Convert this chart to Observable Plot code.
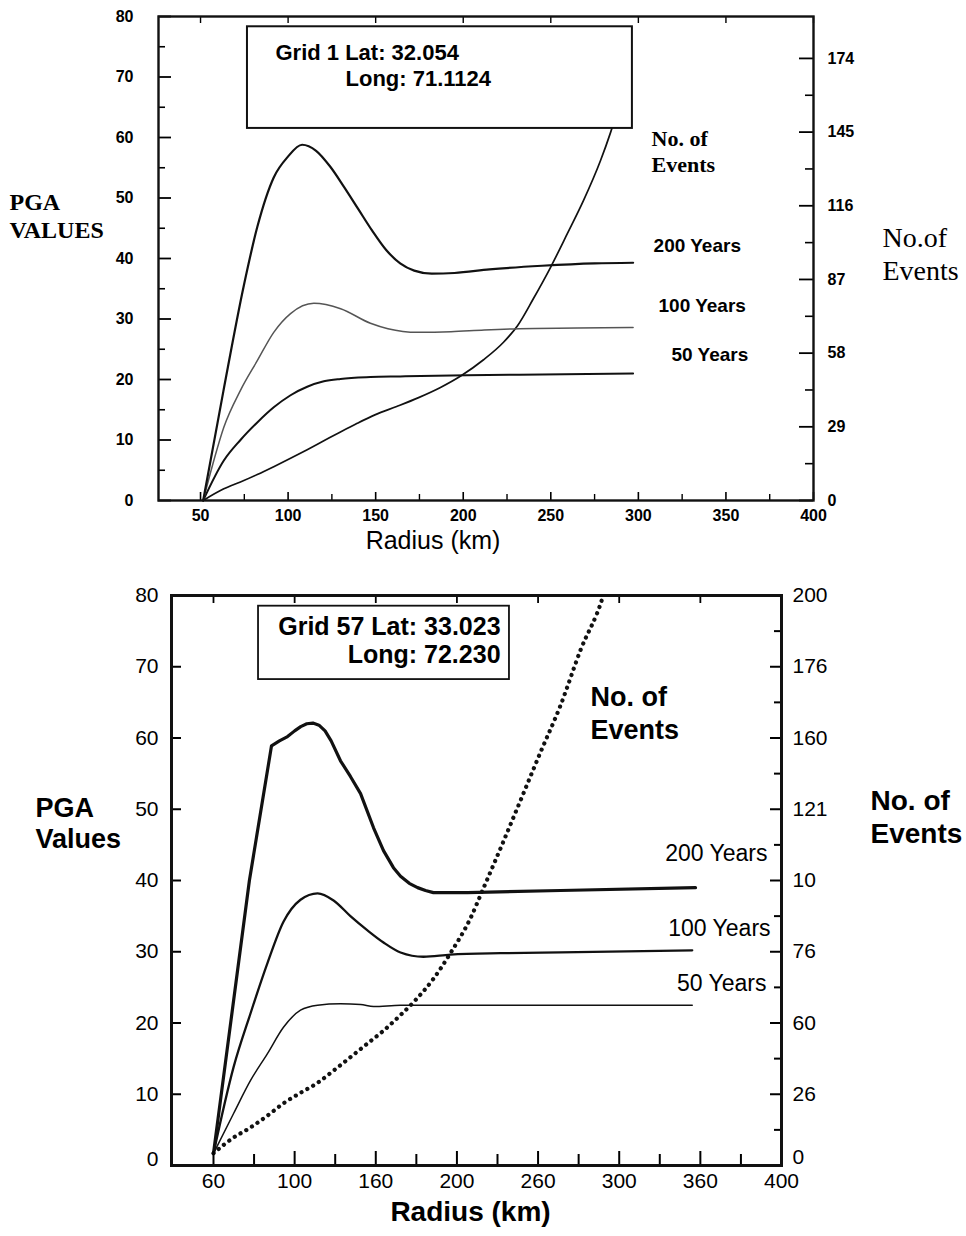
<!DOCTYPE html>
<html>
<head>
<meta charset="utf-8">
<script src="https://cdn.jsdelivr.net/npm/d3@7"></script>
<script src="https://cdn.jsdelivr.net/npm/@observablehq/plot@0.6"></script>
<style>
  body { margin: 0; background: #fff; }
  #wrap { width: 966px; height: 1236px; background: #fff; }
  #wrap svg { display: block; }
</style>
</head>
<body>
<div id="wrap"></div>
<script>
// ---------- TOP PANEL (Grid 1) ----------
const topXTicks = [50, 100, 150, 200, 250, 300, 350, 400];
const topXMinor = [75, 125, 175, 225, 275, 325, 375];
const topYTicks = [0, 10, 20, 30, 40, 50, 60, 70, 80];
const topYMinor = [5, 15, 25, 35, 45, 55, 65, 75];
const topRightLabels = [0, 29, 58, 87, 116, 145, 174];
const topRightMinor = [14.5, 43.5, 72.5, 101.5, 130.5, 159.5];
const topEventsMax = 190.5;

const top200R = [51.5, 63, 74.7, 82.4, 91.8, 99.8, 108, 116, 124, 132, 140, 148, 156, 164, 172, 182, 195, 215, 245, 275, 297];
const top200V = [0, 18, 35.5, 45.2, 53.4, 56.8, 58.8, 57.8, 55.2, 51.8, 48.2, 44.6, 41.4, 39.2, 38.0, 37.5, 37.6, 38.2, 38.8, 39.2, 39.3];
const top100R = [51.5, 57, 63.3, 72.8, 82.4, 91.8, 101.4, 114.7, 130, 147, 157, 174, 193, 212, 232, 265, 297];
const top100V = [0, 6, 12.1, 18.2, 23.1, 27.8, 30.9, 32.6, 31.7, 29.3, 28.4, 27.8, 27.9, 28.2, 28.4, 28.5, 28.6];
const top50R = [51.5, 63.3, 72.8, 82.4, 91.8, 101.4, 110.9, 120.4, 129.9, 147, 164, 202, 232, 297];
const top50V = [0, 6.6, 10.0, 12.9, 15.4, 17.4, 18.8, 19.7, 20.1, 20.4, 20.5, 20.7, 20.8, 21.0];
const topEvR = [51.5, 63.3, 72.8, 82.4, 91.8, 101.4, 110.9, 120.4, 129.9, 139.5, 149.9, 162, 174.5, 187, 199, 211.6, 223, 231, 240.1, 249.8, 259.5, 268.7, 278.4, 284.1, 289.8];
const topEvN = [0, 4.6, 7.3, 10.2, 13.3, 16.6, 20.0, 23.5, 27.0, 30.4, 33.8, 37.0, 40.5, 44.5, 49.2, 55.4, 62.3, 68.8, 79.5, 91.7, 105.1, 118.1, 133.8, 144.8, 157.4];

// ---------- BOTTOM PANEL (Grid 57) ----------
// x in evenly spaced tick units (ticks every 20, printed labels below)
const botXMajor = [60, 100, 140, 180, 220, 260, 300, 340];
const botXLabels = ["60", "100", "160", "200", "260", "300", "360", "400"];
const botXMinor = [80, 120, 160, 200, 240, 280, 320];
const botYTicks = [0, 10, 20, 30, 40, 50, 60, 70, 80];
const botRightLabels = ["0", "26", "60", "76", "10", "121", "160", "176", "200"];
const botRightMinor = [5, 15, 25, 35, 45, 55, 65, 75];
const botEventsMax = 200;

const bot200R = [60, 77.7, 88.6, 92.5, 96.5, 100, 103, 106, 109, 112, 115, 118, 122.6, 127.5, 132.5, 138.9, 143.8, 148.7, 152.2, 156.5, 160.6, 164.5, 168.4, 185.2, 231.1, 297.6];
const bot200V = [1.7, 40.0, 58.9, 59.6, 60.2, 61.0, 61.6, 62.0, 62.1, 61.8, 61.0, 59.6, 56.8, 54.6, 52.2, 47.4, 44.2, 41.8, 40.6, 39.6, 39.0, 38.6, 38.3, 38.3, 38.6, 39.0];
const bot100R = [60, 69.9, 78.2, 86.6, 94.5, 102.9, 111.3, 119.2, 127.5, 135.9, 143.8, 152.2, 163.5, 176.8, 201.5, 231.1, 296];
const bot100V = [1.7, 13.8, 21.3, 28.4, 34.2, 37.3, 38.2, 37.2, 35.0, 33.0, 31.3, 29.9, 29.3, 29.6, 29.8, 29.9, 30.2];
const bot50R = [60, 69.9, 78.2, 86.6, 94.5, 102.9, 111.3, 122.6, 132.5, 138.9, 152.2, 200, 296];
const bot50V = [1.7, 7.3, 11.9, 15.7, 19.4, 21.8, 22.5, 22.7, 22.6, 22.3, 22.5, 22.5, 22.5];
const botEvR = [60, 69.9, 78.2, 86.6, 94.5, 102.9, 111.3, 119.2, 127.5, 135.9, 143.8, 152.2, 158.6, 168.4, 176.8, 186.7, 192.6, 201.5, 211.3, 221.2, 231.1, 240.9, 251.8, 255];
const botEvN = [4.3, 9.8, 13.3, 17.5, 21.8, 25.5, 29, 33.3, 38, 42.8, 47.3, 52.8, 57.3, 65.5, 74.5, 86.8, 96.5, 111.3, 128, 145, 161.5, 180.8, 199.3, 207.5];

const zip = (xs, ys) => xs.map((x, i) => ({x, y: ys[i]}));
const SANS = "'Liberation Sans', Arial, sans-serif";
const SERIF = "'Liberation Serif', 'Times New Roman', serif";
const wrap = document.getElementById("wrap");

// ---------- top chart ----------
{
  const W = 966, H = 575, mL = 158, mR = 153, mT = 16, mB = 75;
  const fw = W - mL - mR, fh = H - mT - mB;
  const k = 80 / topEventsMax;
  const chart = Plot.plot({
    width: W, height: H, marginLeft: mL, marginRight: mR, marginTop: mT, marginBottom: mB,
    x: {domain: [26, 400]},
    y: {domain: [0, 80]},
    style: {fontFamily: SANS, background: "white", color: "black", overflow: "visible"},
    marks: [
      Plot.line(zip(topEvR, topEvN), {x: "x", y: d => d.y * k, curve: "monotone-x", stroke: "#111", strokeWidth: 1.7}),
      Plot.line(zip(top50R, top50V), {x: "x", y: "y", curve: "monotone-x", stroke: "#111", strokeWidth: 2}),
      Plot.line(zip(top100R, top100V), {x: "x", y: "y", curve: "monotone-x", stroke: "#555", strokeWidth: 1.5}),
      Plot.line(zip(top200R, top200V), {x: "x", y: "y", curve: "monotone-x", stroke: "#111", strokeWidth: 2.2}),
      Plot.rect([{x1: 76.8, x2: 296.6, y1: 61.5, y2: 78.3}], {x1: "x1", x2: "x2", y1: "y1", y2: "y2", fill: "white", stroke: "#111", strokeWidth: 2}),
      Plot.text(["Grid 1 Lat: 32.054"], {x: 92.8, y: 74, text: d => d, textAnchor: "start", fontSize: 22, fontWeight: "bold"}),
      Plot.text(["Long: 71.1124"], {x: 132.8, y: 69.6, text: d => d, textAnchor: "start", fontSize: 22, fontWeight: "bold"}),
      Plot.text(["No. of"], {x: 307.5, y: 59.8, text: d => d, textAnchor: "start", fontSize: 22, fontWeight: "bold", fontFamily: SERIF}),
      Plot.text(["Events"], {x: 307.5, y: 55.4, text: d => d, textAnchor: "start", fontSize: 22, fontWeight: "bold", fontFamily: SERIF}),
      Plot.text(["200 Years"], {x: 308.7, y: 42.1, text: d => d, textAnchor: "start", fontSize: 19, fontWeight: "bold", letterSpacing: 0.5}),
      Plot.text(["100 Years"], {x: 311.5, y: 32.2, text: d => d, textAnchor: "start", fontSize: 19, fontWeight: "bold", letterSpacing: 0.5}),
      Plot.text(["50 Years"], {x: 318.9, y: 24.1, text: d => d, textAnchor: "start", fontSize: 19, fontWeight: "bold", letterSpacing: 0.5}),
      // ticks (inward)
      Plot.tickX(topXTicks, {x: d => d, insetTop: fh - 8, strokeWidth: 1.6}),
      Plot.tickX(topXMinor, {x: d => d, insetTop: fh - 6, strokeWidth: 1.4}),
      Plot.tickX(topXTicks, {x: d => d, insetBottom: fh - 7, strokeWidth: 1.4}),
      Plot.tickY(topYTicks, {y: d => d, insetRight: fw - 13, strokeWidth: 1.8}),
      Plot.tickY(topYMinor, {y: d => d, insetRight: fw - 7, strokeWidth: 1.6}),
      Plot.tickY(topRightLabels, {y: d => d * k, insetLeft: fw - 14, strokeWidth: 1.8}),
      Plot.tickY(topRightMinor, {y: d => d * k, insetLeft: fw - 8, strokeWidth: 1.6}),
      Plot.frame({stroke: "#111", strokeWidth: 2.4}),
      // axis labels
      Plot.axisX(topXTicks, {anchor: "bottom", tickSize: 0, tickPadding: 9, fontSize: 16, fontWeight: "bold", label: null}),
      Plot.axisY(topYTicks, {anchor: "left", tickSize: 0, tickPadding: 25, fontSize: 16, fontWeight: "bold", label: null}),
      Plot.axisY(topRightLabels.map(v => v * k), {anchor: "right", tickSize: 0, tickPadding: 14, fontSize: 16, fontWeight: "bold", label: null, tickFormat: d => String(Math.round(d / k))}),
      // titles
      Plot.text(["PGA"], {frameAnchor: "top-left", dx: -149, dy: 176, text: d => d, textAnchor: "start", fontSize: 24, fontWeight: "bold", fontFamily: SERIF}),
      Plot.text(["VALUES"], {frameAnchor: "top-left", dx: -149, dy: 204, text: d => d, textAnchor: "start", fontSize: 24, fontWeight: "bold", fontFamily: SERIF}),
      Plot.text(["No.of"], {frameAnchor: "top-right", dx: 69, dy: 211, text: d => d, textAnchor: "start", fontSize: 28, fontFamily: SERIF, letterSpacing: 0.8}),
      Plot.text(["Events"], {frameAnchor: "top-right", dx: 69, dy: 244, text: d => d, textAnchor: "start", fontSize: 28, fontFamily: SERIF, letterSpacing: 0.8}),
      Plot.text(["Radius (km)"], {frameAnchor: "bottom", dx: -53, dy: 48, text: d => d, fontSize: 25})
    ]
  });
  wrap.appendChild(chart);
}

// ---------- bottom chart ----------
{
  const W = 966, H = 661, mL = 171, mR = 185, mT = 20, mB = 71;
  const fw = W - mL - mR, fh = H - mT - mB;
  const k = 80 / botEventsMax;
  const chart = Plot.plot({
    width: W, height: H, marginLeft: mL, marginRight: mR, marginTop: mT, marginBottom: mB,
    x: {domain: [39.3, 340]},
    y: {domain: [0, 80]},
    style: {fontFamily: SANS, background: "white", color: "black", overflow: "visible"},
    marks: [
      Plot.line(zip(botEvR, botEvN), {x: "x", y: d => d.y * k, curve: "monotone-x", stroke: "#111", strokeWidth: 4.2, strokeDasharray: "0.1,6.6", strokeLinecap: "round", clip: true}),
      Plot.line(zip(bot50R, bot50V), {x: "x", y: "y", curve: "monotone-x", stroke: "#111", strokeWidth: 1.5}),
      Plot.line(zip(bot100R, bot100V), {x: "x", y: "y", curve: "monotone-x", stroke: "#111", strokeWidth: 2.3}),
      Plot.line(zip(bot200R, bot200V), {x: "x", y: "y", curve: "linear", stroke: "#111", strokeWidth: 3.2, strokeLinejoin: "round"}),
      Plot.rect([{x1: 82.2, x2: 205.9, y1: 68.2, y2: 78.5}], {x1: "x1", x2: "x2", y1: "y1", y2: "y2", fill: "white", stroke: "#111", strokeWidth: 1.8}),
      Plot.text(["Grid 57 Lat: 33.023"], {x: 201.5, y: 75.6, text: d => d, textAnchor: "end", fontSize: 25, fontWeight: "bold"}),
      Plot.text(["Long: 72.230"], {x: 201.5, y: 71.7, text: d => d, textAnchor: "end", fontSize: 25, fontWeight: "bold"}),
      Plot.text(["No. of"], {x: 245.8, y: 65.7, text: d => d, textAnchor: "start", fontSize: 27, fontWeight: "bold"}),
      Plot.text(["Events"], {x: 245.8, y: 61.1, text: d => d, textAnchor: "start", fontSize: 27, fontWeight: "bold"}),
      Plot.text(["200 Years"], {x: 333.1, y: 43.8, text: d => d, textAnchor: "end", fontSize: 23}),
      Plot.text(["100 Years"], {x: 334.6, y: 33.3, text: d => d, textAnchor: "end", fontSize: 23}),
      Plot.text(["50 Years"], {x: 332.6, y: 25.5, text: d => d, textAnchor: "end", fontSize: 23}),
      // ticks (inward)
      Plot.tickX(botXMajor, {x: d => d, insetTop: fh - 14, strokeWidth: 2}),
      Plot.tickX(botXMinor, {x: d => d, insetTop: fh - 11, strokeWidth: 2}),
      Plot.tickX(botXMajor.slice(0, -1), {x: d => d, insetBottom: fh - 8, strokeWidth: 1.8}),
      Plot.tickY(botYTicks, {y: d => d, insetRight: fw - 10, strokeWidth: 2}),
      Plot.tickY(botYTicks, {y: d => d, insetLeft: fw - 11, strokeWidth: 2}),
      Plot.tickY(botRightMinor, {y: d => d, insetLeft: fw - 7, strokeWidth: 2}),
      Plot.frame({stroke: "#111", strokeWidth: 3}),
      // axis labels
      Plot.axisX(botXMajor, {anchor: "bottom", tickSize: 0, tickPadding: 8, fontSize: 21, label: null, tickFormat: d => botXLabels[Math.round((d - 60) / 40)]}),
      Plot.axisY(botYTicks.slice(1), {anchor: "left", tickSize: 0, tickPadding: 13, fontSize: 21, label: null}),
      Plot.axisY(botYTicks.slice(0, 1), {anchor: "left", tickSize: 0, tickPadding: 13, dy: -6, fontSize: 21, label: null}),
      Plot.axisY(botYTicks.slice(1), {anchor: "right", tickSize: 0, tickPadding: 11, fontSize: 21, label: null, tickFormat: d => botRightLabels[Math.round(d / 10)]}),
      Plot.axisY(botYTicks.slice(0, 1), {anchor: "right", tickSize: 0, tickPadding: 11, dy: -8, fontSize: 21, label: null, tickFormat: d => botRightLabels[Math.round(d / 10)]}),
      // titles
      Plot.text(["PGA"], {frameAnchor: "top-left", dx: -136, dy: 202, text: d => d, textAnchor: "start", fontSize: 27, fontWeight: "bold"}),
      Plot.text(["Values"], {frameAnchor: "top-left", dx: -136, dy: 233, text: d => d, textAnchor: "start", fontSize: 27, fontWeight: "bold"}),
      Plot.text(["No. of"], {frameAnchor: "top-right", dx: 89, dy: 195, text: d => d, textAnchor: "start", fontSize: 28, fontWeight: "bold"}),
      Plot.text(["Events"], {frameAnchor: "top-right", dx: 89, dy: 228, text: d => d, textAnchor: "start", fontSize: 28, fontWeight: "bold"}),
      Plot.text(["Radius (km)"], {frameAnchor: "bottom", dx: -6, dy: 55, text: d => d, fontSize: 28, fontWeight: "bold"})
    ]
  });
  wrap.appendChild(chart);
}
</script>
</body>
</html>
